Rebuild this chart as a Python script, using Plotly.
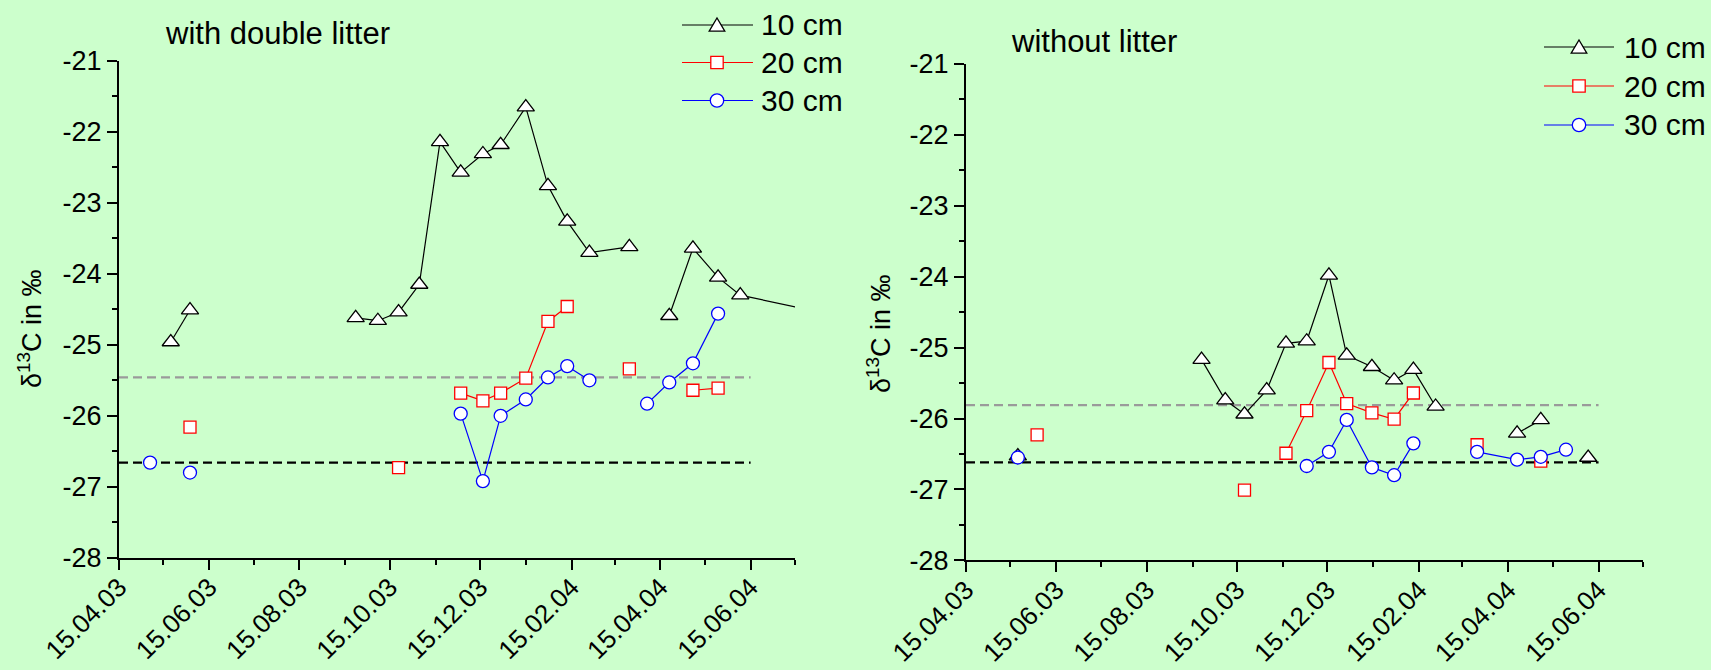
import plotly.graph_objects as go

# ---------------------------------------------------------------------------
# Axis definitions
# ---------------------------------------------------------------------------
x_start, x_end = "2003-04-15", "2004-07-15"
major_tick_dates = ["2003-04-15", "2003-06-15", "2003-08-15", "2003-10-15",
                    "2003-12-15", "2004-02-15", "2004-04-15", "2004-06-15"]
major_tick_labels = ["15.04.03", "15.06.03", "15.08.03", "15.10.03",
                     "15.12.03", "15.02.04", "15.04.04", "15.06.04"]
y_tick_values = [-28, -27, -26, -25, -24, -23, -22, -21]

panel_titles = ["with double litter", "without litter"]
depth_names = ["10 cm", "20 cm", "30 cm"]

# ---------------------------------------------------------------------------
# delta 13C values, plot with double litter (None = gap in the series)
# ---------------------------------------------------------------------------
dl_10_dates = ["2003-05-20", "2003-06-02", None,
               "2003-09-22", "2003-10-07", "2003-10-21", "2003-11-04",
               "2003-11-18", "2003-12-02", "2003-12-17", "2003-12-29",
               "2004-01-15", "2004-01-30", "2004-02-12", "2004-02-27",
               "2004-03-25", None,
               "2004-04-21", "2004-05-07", "2004-05-24", "2004-06-08",
               "2004-07-23"]
dl_10_vals = [-24.96, -24.51, None,
              -24.62, -24.66, -24.54, -24.15,
              -22.14, -22.57, -22.31, -22.18,
              -21.65, -22.76, -23.26, -23.70,
              -23.62, None,
              -24.59, -23.64, -24.05, -24.30,
              -24.50]

dl_20_dates = ["2003-06-02", None, "2003-10-21", None,
               "2003-12-02", "2003-12-17", "2003-12-29", "2004-01-15",
               "2004-01-30", "2004-02-12", None,
               "2004-03-25", None,
               "2004-05-07", "2004-05-24"]
dl_20_vals = [-26.16, None, -26.73, None,
              -25.68, -25.79, -25.68, -25.47,
              -24.67, -24.46, None,
              -25.34, None,
              -25.64, -25.61]

dl_30_dates = ["2003-05-06", None, "2003-06-02", None,
               "2003-12-02", "2003-12-17", "2003-12-29", "2004-01-15",
               "2004-01-30", "2004-02-12", "2004-02-27", None,
               "2004-04-06", "2004-04-21", "2004-05-07", "2004-05-24"]
dl_30_vals = [-26.66, None, -26.80, None,
              -25.97, -26.92, -26.00, -25.77,
              -25.46, -25.30, -25.50, None,
              -25.83, -25.53, -25.26, -24.56]

dl_ref_levels = [-25.46, -26.66]   # grey / black dashed reference levels

# ---------------------------------------------------------------------------
# delta 13C values, plot without litter
# ---------------------------------------------------------------------------
nl_10_dates = ["2003-05-20", None,
               "2003-09-21", "2003-10-07", "2003-10-20", "2003-11-04",
               "2003-11-17", "2003-12-01", "2003-12-16", "2003-12-28",
               "2004-01-14", "2004-01-29", "2004-02-11", "2004-02-26", None,
               "2004-04-21", "2004-05-07", None,
               "2004-06-08"]
nl_10_vals = [-26.53, None,
              -25.17, -25.74, -25.94, -25.60,
              -24.94, -24.91, -23.98, -25.11,
              -25.27, -25.46, -25.31, -25.83, None,
              -26.21, -26.02, None,
              -26.55]

nl_20_dates = ["2003-06-02", None, "2003-10-20", None,
               "2003-11-17", "2003-12-01", "2003-12-16", "2003-12-28",
               "2004-01-14", "2004-01-29", "2004-02-11", None,
               "2004-03-25", None,
               "2004-05-07"]
nl_20_vals = [-26.23, None, -27.01, None,
              -26.49, -25.89, -25.21, -25.79,
              -25.92, -26.01, -25.64, None,
              -26.37, None,
              -26.60]

nl_30_dates = ["2003-05-20", None,
               "2003-12-01", "2003-12-16", "2003-12-28", "2004-01-14",
               "2004-01-29", "2004-02-11", None,
               "2004-03-25", "2004-04-21", "2004-05-07", "2004-05-24"]
nl_30_vals = [-26.55, None,
              -26.67, -26.47, -26.02, -26.69,
              -26.80, -26.35, None,
              -26.47, -26.58, -26.54, -26.44]

nl_ref_levels = [-25.81, -26.62]

ref_line_end = "2004-06-15"

# ---------------------------------------------------------------------------
# Styling
# ---------------------------------------------------------------------------
W, H = 1711, 670
BG = "#CCFFCC"
FONT = "Liberation Sans, Arial, sans-serif"
REF_COLORS = ["#9A9A9A", "#000000"]
X_TICK_SIZE = 26
Y_TICK_SIZE = 27
LABEL_SIZE = 30

depth_styles = [
    dict(color="#000000", symbol="triangle-up", size=15),
    dict(color="#FF0000", symbol="square", size=12),
    dict(color="#0000FF", symbol="circle", size=13),
]

# pixel layout of the two panels (left, right, top, bottom)
panels_px = [(119, 795, 61, 557.7), (966, 1643, 64, 560.3)]


def px(x):
    """Horizontal pixel -> paper fraction."""
    return x / W


def py(y):
    """Vertical pixel (from top) -> paper fraction."""
    return 1 - y / H


fig = go.Figure()

panel_data = [
    [(dl_10_dates, dl_10_vals), (dl_20_dates, dl_20_vals), (dl_30_dates, dl_30_vals)],
    [(nl_10_dates, nl_10_vals), (nl_20_dates, nl_20_vals), (nl_30_dates, nl_30_vals)],
]
panel_refs = [dl_ref_levels, nl_ref_levels]
axis_ids = [("x", "y"), ("x2", "y2")]

for p, (xa, ya) in enumerate(axis_ids):
    # dashed reference levels, drawn first so the markers sit on top
    for lvl, col in zip(panel_refs[p], REF_COLORS):
        fig.add_trace(go.Scatter(
            x=[x_start, ref_line_end], y=[lvl, lvl], mode="lines",
            xaxis=xa, yaxis=ya, showlegend=False, hoverinfo="skip",
            line=dict(color=col, width=2.3, dash="9px,5px")))
    for (dates, vals), style, name in zip(panel_data[p], depth_styles, depth_names):
        fig.add_trace(go.Scatter(
            x=dates, y=vals, name=name, mode="lines+markers",
            xaxis=xa, yaxis=ya, showlegend=False,
            line=dict(color=style["color"], width=1.2),
            marker=dict(symbol=style["symbol"], size=style["size"],
                        color="white",
                        line=dict(color=style["color"], width=1.3))))


# ---------------------------------------------------------------------------
# Axes
# ---------------------------------------------------------------------------
def xaxis_cfg(left, right, anchor):
    return dict(
        anchor=anchor, domain=[px(left), px(right)], type="date",
        automargin=False,
        range=[x_start, x_end], tickmode="array",
        tickvals=major_tick_dates, ticktext=major_tick_labels,
        tickangle=-45, ticks="outside", ticklen=10, tickwidth=2,
        ticklabelstandoff=-8,
        tickcolor="black", showline=True, linecolor="black", linewidth=2,
        showgrid=False, zeroline=False,
        tickfont=dict(family=FONT, size=X_TICK_SIZE, color="black"),
        minor=dict(tick0=x_start, dtick="M1", ticks="outside", ticklen=5,
                   tickwidth=2, tickcolor="black", showgrid=False),
    )


def yaxis_cfg(top, bottom, anchor):
    return dict(
        anchor=anchor, domain=[py(bottom), py(top)],
        automargin=False,
        range=[-28, -21], tickmode="array", tickvals=y_tick_values,
        ticktext=[str(v) for v in y_tick_values],
        ticks="outside", ticklen=10, tickwidth=2, tickcolor="black",
        showline=True, linecolor="black", linewidth=2,
        showgrid=False, zeroline=False,
        tickfont=dict(family=FONT, size=Y_TICK_SIZE, color="black"),
        minor=dict(tick0=-28, dtick=0.5, ticks="outside", ticklen=5,
                   tickwidth=2, tickcolor="black", showgrid=False),
    )


(l0, r0, t0, b0), (l1, r1, t1, b1) = panels_px

# ---------------------------------------------------------------------------
# Legends (one per panel) drawn as paper shapes + text
# ---------------------------------------------------------------------------
legend_px = [
    dict(x0=682, x1=753, xm=717, xt=759, rows=[25, 62.5, 100.5]),
    dict(x0=1544, x1=1614, xm=1579, xt=1622, rows=[47, 86, 125]),
]
shapes, annotations = [], []
for lg in legend_px:
    for name, style, yr in zip(depth_names, depth_styles, lg["rows"]):
        col = style["color"]
        shapes.append(dict(type="line", xref="paper", yref="paper",
                           x0=px(lg["x0"]), x1=px(lg["x1"]),
                           y0=py(yr), y1=py(yr),
                           line=dict(color=col, width=1.2)))
        xm = lg["xm"]
        key_line = dict(color=col, width=1.3)
        if style["symbol"] == "triangle-up":
            path = "M {:.5f},{:.5f} L {:.5f},{:.5f} L {:.5f},{:.5f} Z".format(
                px(xm - 7.8), py(yr + 6.2), px(xm + 7.8), py(yr + 6.2),
                px(xm), py(yr - 7.0))
            shapes.append(dict(type="path", xref="paper", yref="paper",
                               path=path, fillcolor="white", line=key_line))
        elif style["symbol"] == "square":
            shapes.append(dict(type="rect", xref="paper", yref="paper",
                               x0=px(xm - 6.2), x1=px(xm + 6.2),
                               y0=py(yr + 6.2), y1=py(yr - 6.2),
                               fillcolor="white", line=key_line))
        else:
            shapes.append(dict(type="circle", xref="paper", yref="paper",
                               x0=px(xm - 6.7), x1=px(xm + 6.7),
                               y0=py(yr + 6.7), y1=py(yr - 6.7),
                               fillcolor="white", line=key_line))
        annotations.append(dict(
            xref="paper", yref="paper", x=px(lg["xt"]), y=py(yr), text=name,
            showarrow=False, xanchor="left", yanchor="middle",
            font=dict(family=FONT, size=LABEL_SIZE, color="black")))

title_px = [(163, 33), (1009, 42)]
for title, (tx, ty) in zip(panel_titles, title_px):
    annotations.append(dict(
        xref="paper", yref="paper", x=px(tx), y=py(ty), text=title,
        showarrow=False, xanchor="left", yanchor="middle",
        font=dict(family=FONT, size=LABEL_SIZE + 1, color="black")))

ytitle_px = [(30, 329), (879, 334)]
for tx, ty in ytitle_px:
    annotations.append(dict(
        xref="paper", yref="paper", x=px(tx), y=py(ty),
        text="δ<sup>13</sup>C in ‰", textangle=-90, showarrow=False,
        xanchor="center", yanchor="middle",
        font=dict(family=FONT, size=27, color="black")))

fig.update_layout(
    width=W, height=H, autosize=False,
    margin=dict(l=0, r=0, t=0, b=0, pad=0, autoexpand=False),
    paper_bgcolor=BG, plot_bgcolor=BG,
    font=dict(family=FONT, color="black"),
    showlegend=False,
    xaxis=xaxis_cfg(l0, r0, "y"),
    yaxis=yaxis_cfg(t0, b0, "x"),
    xaxis2=xaxis_cfg(l1, r1, "y2"),
    yaxis2=yaxis_cfg(t1, b1, "x2"),
    shapes=shapes,
    annotations=annotations,
)

fig.write_html("out.html")
